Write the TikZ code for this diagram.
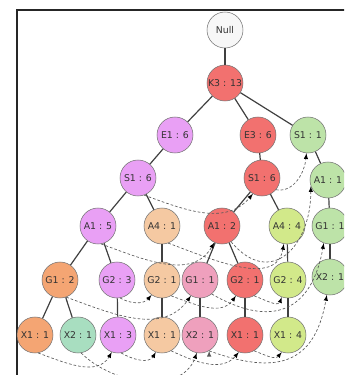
\documentclass[tikz,border=0pt]{standalone}
\usepackage{fontspec}
\setmainfont{DejaVu Sans}
\usepackage{tikz}
\usetikzlibrary{arrows}

\definecolor{nullfill}{HTML}{F7F7F7}
\definecolor{redfill}{HTML}{F2716F}
\definecolor{violetfill}{HTML}{E9A0F5}
\definecolor{greenfill}{HTML}{BDE3A8}
\definecolor{tanfill}{HTML}{F5C9A2}
\definecolor{orangefill}{HTML}{F4A573}
\definecolor{tealfill}{HTML}{A8DEC0}
\definecolor{pinkfill}{HTML}{EFA0BD}
\definecolor{limefill}{HTML}{D2E98A}

\begin{document}
\begin{tikzpicture}[x=0.75pt,y=0.75pt,
    item/.style={circle,draw=black!55,thin,minimum size=27pt,inner sep=0pt,
                 font=\fontsize{7}{8}\selectfont,text=black!80},
    tree/.style={draw=black!75,line width=0.9pt},
    link/.style={draw=black!65,dashed,dash pattern=on 2pt off 1.5pt,
                 line width=0.5pt,-latex}]
                \useasboundingbox (0,0) rectangle (344,375);
                \clip (0,0) rectangle (344,375);
                \draw[black!85, line width=1.2pt] (17,-5) -- (17,365) -- (360,365);

                \node[item, fill=nullfill]   (null) at (225,345) {Null};
                \node[item, fill=redfill]    (k3)   at (225,292) {K3 : 13};

                \node[item, fill=violetfill] (e1)   at (175,240) {E1 : 6};
                \node[item, fill=redfill]    (e3)   at (258,240) {E3 : 6};
                \node[item, fill=greenfill]  (s1c)  at (308,240) {S1 : 1};

                \node[item, fill=violetfill] (s1a)  at (138,197) {S1 : 6};
                \node[item, fill=redfill]    (s1b)  at (262,197) {S1 : 6};
                \node[item, fill=greenfill]  (a1c)  at (328,195) {A1 : 1};

                \node[item, fill=violetfill] (a1a)  at (98,149)  {A1 : 5};
                \node[item, fill=tanfill]    (a4a)  at (162,149) {A4 : 1};
                \node[item, fill=redfill]    (a1b)  at (222,149) {A1 : 2};
                \node[item, fill=limefill]   (a4b)  at (287,149) {A4 : 4};
                \node[item, fill=greenfill]  (g1c)  at (330,149) {G1 : 1};

                \node[item, fill=orangefill] (g1a)  at (60,95)   {G1 : 2};
                \node[item, fill=violetfill] (g2a)  at (117,95)  {G2 : 3};
                \node[item, fill=tanfill]    (g2b)  at (162,95)  {G2 : 1};
                \node[item, fill=pinkfill]   (g1b)  at (200,95)  {G1 : 1};
                \node[item, fill=redfill]    (g2c)  at (245,95)  {G2 : 1};
                \node[item, fill=limefill]   (g2d)  at (288,95)  {G2 : 4};
                \node[item, fill=greenfill]  (x2c)  at (330,98)  {X2 : 1};

                \node[item, fill=orangefill] (x1a)  at (35,40)   {X1 : 1};
                \node[item, fill=tealfill]   (x2a)  at (78,40)   {X2 : 1};
                \node[item, fill=violetfill] (x1b)  at (118,40)  {X1 : 3};
                \node[item, fill=tanfill]    (x1c)  at (162,40)  {X1 : 1};
                \node[item, fill=pinkfill]   (x2b)  at (200,40)  {X2 : 1};
                \node[item, fill=redfill]    (x1d)  at (245,40)  {X1 : 1};
                \node[item, fill=limefill]   (x1e)  at (288,40)  {X1 : 4};

                \path[tree]
                (null) edge (k3)
                (k3)   edge (e1)
                (k3)   edge (e3)
                (k3)   edge (s1c)
                (e1)   edge (s1a)
                (e3)   edge (s1b)
                (s1c)  edge (a1c)
                (s1a)  edge (a1a)
                (s1a)  edge (a4a)
                (s1b)  edge (a1b)
                (s1b)  edge (a4b)
                (a1c)  edge (g1c)
                (a1a)  edge (g1a)
                (a1a)  edge (g2a)
                (a4a)  edge (g2b)
                (a1b)  edge (g1b)
                (a1b)  edge (g2c)
                (a4b)  edge (g2d)
                (g1c)  edge (x2c)
                (g1a)  edge (x1a)
                (g1a)  edge (x2a)
                (g2a)  edge (x1b)
                (g2b)  edge (x1c)
                (g1b)  edge (x2b)
                (g2c)  edge (x1d)
                (g2d)  edge (x1e);

                \path[link]
                (s1a.-70) edge [out=-20,in=-130] (s1b.-120)
                (s1b.-40) edge [out=-10,in=-95]  (s1c.-95)
                (a1a.-80) edge [out=-20,in=-120] (a1b.-115)
                (a1b.-60) edge [out=-50,in=-90,looseness=1.6] (a1c.200)
                (a4a.-70) edge [out=-20,in=-100] (a4b.-100)
                (g1a.-70) edge [out=-20,in=-125] (g1b.-120)
                (g1b.-50) edge [out=-30,in=-100,looseness=1.45] (g1c.-110)
                (g2a.-80) edge [out=-30,in=-130] (g2b.-125)
                (g2b.-60) edge [out=-20,in=-125] (g2c.-120)
                (g2c.-60) edge [out=-20,in=-110] (g2d.-110)
                (x1a.-80) edge [out=-20,in=-120] (x1b.-110)
                (x1b.-80) edge [out=-30,in=-120] (x1c.-110)
                (x1c.-60) edge [out=-25,in=-130] (x1d.-110)
                (x1d.-60) edge [out=-20,in=-130] (x1e.-110)
                (x2a.-80) edge [out=-45,in=-110] (x2b.-100)
                (x2b.-60) edge [out=-20,in=-100,looseness=1.4] (x2c.-100);
            \end{tikzpicture}
\end{document}
